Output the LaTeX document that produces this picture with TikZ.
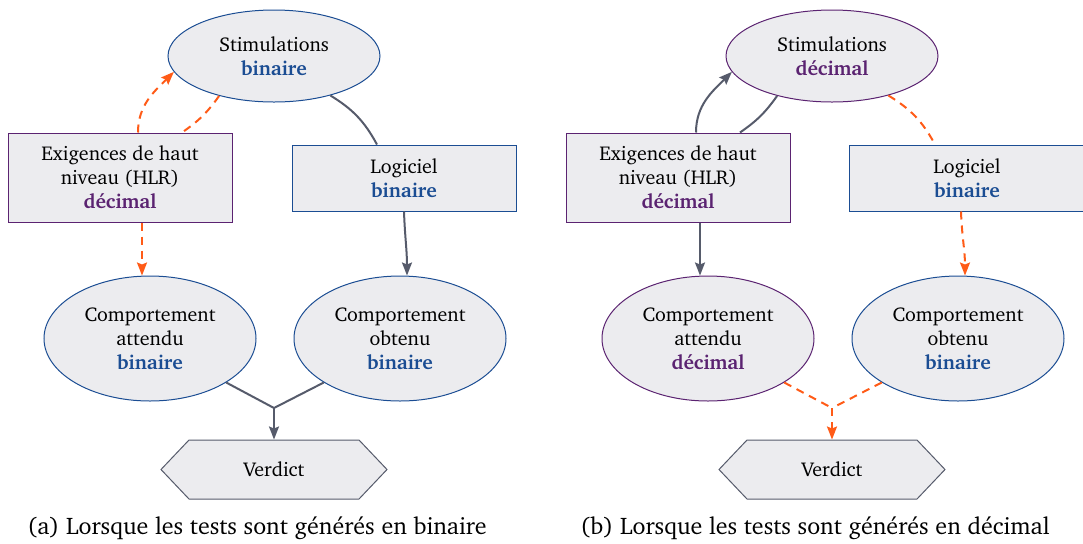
\documentclass[tikz,border=0pt]{standalone}
\usepackage[T1]{fontenc}
\usepackage{charter}
\usetikzlibrary{shapes.geometric,shapes.symbols,arrows.meta}

\definecolor{fondnoeud}{HTML}{ECECEF}
\definecolor{bleubin}{HTML}{1B4D93}
\definecolor{violetdec}{HTML}{5B2371}
\definecolor{grisfleche}{HTML}{565B6B}
\definecolor{orangeconv}{HTML}{FF5B17}

\newcommand{\txtbin}{\textbf{\color{bleubin}binaire}}
\newcommand{\txtdec}{\textbf{\color{violetdec}décimal}}

\tikzset{
  ovale/.style={ellipse,fill=fondnoeud,line width=0.5pt,inner sep=0pt,align=center,
    minimum width=106pt},
  boite/.style={rectangle,fill=fondnoeud,line width=0.5pt,inner sep=0pt,align=center,
    minimum width=112pt},
  verdict/.style={signal,signal to=west and east,signal pointer angle=93,fill=fondnoeud,
    draw=grisfleche,line width=0.5pt,inner sep=0pt,minimum width=113pt,minimum height=29.5pt},
  fleche/.style={line width=1pt,color=grisfleche},
  conv/.style={line width=1pt,color=orangeconv,dash pattern=on 4pt off 3pt},
  pointe/.style={-{Stealth[length=6.5pt,width=5pt,inset=1pt]}},
  legende/.style={font=\large}
}

\begin{document}
\begin{tikzpicture}[x=0.5pt,y=-0.5pt]
\useasboundingbox (0,0) rectangle (1083,543);

% (a) tests generes en binaire
\node[ovale,draw=bleubin,minimum height=46pt] (stima) at (274,56) {Stimulations\\\txtbin};
\node[boite,draw=violetdec,minimum height=44.5pt] (hlra) at (120,177.5) {Exigences de haut\\niveau (HLR)\\\txtdec};
\node[boite,draw=bleubin,minimum height=33pt] (loga) at (404,178) {Logiciel\\\txtbin};
\node[ovale,draw=bleubin,minimum height=62.5pt] (atta) at (150,338.5) {Comportement\\attendu\\\txtbin};
\node[ovale,draw=bleubin,minimum height=62.5pt] (obta) at (400,338.5) {Comportement\\obtenu\\\txtbin};
\node[verdict] (verda) at (274,469.5) {Verdict};
\coordinate (ja) at (274,408);
\node[legende] (capa) at (257,528) {(a) Lorsque les tests sont générés en binaire};

\draw[conv,pointe] ([xshift=9pt]hlra.north) to[out=90,in=225] (stima.189);
\draw[conv] (stima.216) to[bend left=10] ([xshift=31pt]hlra.north);
\draw[conv,pointe] ([xshift=11pt]hlra.south) -- ([xshift=-4pt]atta.north);
\draw[fleche] (stima.-35) to[bend left=15] ([xshift=-13.5pt]loga.north);
\draw[fleche,pointe] (loga.south) to[out=-88,in=90] ([xshift=3.5pt]obta.north);
\draw[fleche] (atta.-30) -- (ja);
\draw[fleche] (obta.210) -- (ja);
\draw[fleche,pointe] (ja) -- (verda.north);

% (b) tests generes en decimal
\node[ovale,draw=violetdec,minimum height=46pt] (stimb) at (832,56) {Stimulations\\\txtdec};
\node[boite,draw=violetdec,minimum height=44.5pt] (hlrb) at (678,177.5) {Exigences de haut\\niveau (HLR)\\\txtdec};
\node[boite,draw=bleubin,minimum height=33pt,minimum width=118pt] (logb) at (967,178) {Logiciel\\\txtbin};
\node[ovale,draw=violetdec,minimum height=62.5pt] (attb) at (708,338.5) {Comportement\\attendu\\\txtdec};
\node[ovale,draw=bleubin,minimum height=62.5pt] (obtb) at (958,338.5) {Comportement\\obtenu\\\txtbin};
\node[verdict] (verdb) at (832,469.5) {Verdict};
\coordinate (jb) at (832,408);
\node[legende] (capb) at (815,528) {(b) Lorsque les tests sont générés en décimal};

\draw[fleche,pointe] ([xshift=9pt]hlrb.north) to[out=90,in=225] (stimb.189);
\draw[fleche] (stimb.216) to[bend left=10] ([xshift=31pt]hlrb.north);
\draw[fleche,pointe] ([xshift=11pt]hlrb.south) -- ([xshift=-4pt]attb.north);
\draw[conv] (stimb.-35) to[bend left=15] ([xshift=-16pt]logb.north);
\draw[conv,pointe] ([xshift=-3pt]logb.south) to[out=-88,in=90] ([xshift=3.5pt]obtb.north);
\draw[conv] (attb.-30) -- (jb);
\draw[conv] (obtb.210) -- (jb);
\draw[conv,pointe] (jb) -- (verdb.north);
\end{tikzpicture}
\end{document}
